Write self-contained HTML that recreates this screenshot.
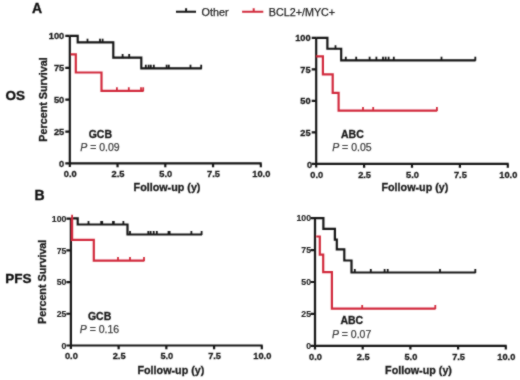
<!DOCTYPE html>
<html><head><meta charset="utf-8"><style>
html,body{margin:0;padding:0;background:#fff;width:520px;height:380px;overflow:hidden}
svg{display:block}
text{font-family:"Liberation Sans",sans-serif}
.tl{font-size:9.25px;font-weight:bold;fill:#1a1a1a;stroke:#1a1a1a;stroke-width:0.3px}
.tlb{font-size:8.75px;font-weight:bold;fill:#262626;stroke:#262626;stroke-width:0.15px}
.ax{font-size:10.75px;font-weight:bold;fill:#1a1a1a;stroke:#1a1a1a;stroke-width:0.3px}
.big{font-size:13.5px;font-weight:bold;fill:#111;stroke:#111;stroke-width:0.35px}
.leg{font-size:10.75px;fill:#262626;stroke:#262626;stroke-width:0.25px}
.grp{font-size:10.5px;font-weight:bold;fill:#1a1a1a;stroke:#1a1a1a;stroke-width:0.3px}
.pv{font-size:10.5px;fill:#404040;stroke:#404040;stroke-width:0.25px}
</style></head><body>
<svg width="520" height="380" viewBox="0 0 520 380">
<defs><filter id="bl" x="-5%" y="-5%" width="110%" height="110%"><feConvolveMatrix order="3" kernelMatrix="1 2 1 2 16 2 1 2 1" divisor="28" edgeMode="none" preserveAlpha="false"/></filter></defs>
<rect width="520" height="380" fill="#fff"/>
<g filter="url(#bl)">
<g transform="translate(0,0)">
<path d="M69.8,35.9 V167.0 M68.89999999999999,163.4 H261.7 M260.8,163.4 V167.20000000000002" stroke="#161616" stroke-width="2.2" fill="none"/>
<path d="M65.3,163.40 H69.8 M65.3,131.53 H69.8 M65.3,99.65 H69.8 M65.3,67.78 H69.8 M65.3,35.90 H69.8 M117.55,163.4 V167.20000000000002 M165.30,163.4 V167.20000000000002 M213.05,163.4 V167.20000000000002 " stroke="#161616" stroke-width="2.2" fill="none"/>
<text x="64.20" y="166.60" class="tl" text-anchor="end">0</text>
<text x="64.20" y="134.72" class="tl" text-anchor="end">25</text>
<text x="64.20" y="102.85" class="tl" text-anchor="end">50</text>
<text x="64.20" y="70.98" class="tl" text-anchor="end">75</text>
<text x="64.20" y="39.10" class="tl" text-anchor="end">100</text>
<text x="70.30" y="177.30" class="tl" text-anchor="middle">0.0</text>
<text x="118.05" y="177.30" class="tl" text-anchor="middle">2.5</text>
<text x="165.80" y="177.30" class="tl" text-anchor="middle">5.0</text>
<text x="213.55" y="177.30" class="tl" text-anchor="middle">7.5</text>
<text x="261.30" y="177.30" class="tl" text-anchor="middle">10.0</text>
<path d="M69.8,35.9 H77.7 V42.4 H113.3 V57.7 H141.3 V68.3 H201.8" stroke="#161616" stroke-width="2.2" fill="none" stroke-linejoin="miter"/>
<path d="M87.5,42.9 V38.8 M100,42.9 V38.8 M102.6,42.9 V38.8 M122.6,58.2 V54.1 M129.2,58.2 V54.1 M145.8,68.8 V64.7 M148.6,68.8 V64.7 M150.8,68.8 V64.7 M153.8,68.8 V64.7 M166.6,68.8 V64.7 M168.8,68.8 V64.7 M190.5,68.8 V64.7 M201.2,68.8 V64.7" stroke="#161616" stroke-width="1.8" fill="none"/>
<path d="M70.8,54.3 H75.8 V72.5 H101.5 V90.8 H143.5" stroke="#d22c3c" stroke-width="2.2" fill="none" stroke-linejoin="miter"/>
<path d="M116.9,91.3 V87.2 M128.8,91.3 V87.2 M141,91.3 V87.2 M143.2,91.3 V87.2" stroke="#d22c3c" stroke-width="1.8" fill="none"/>
</g>
<g transform="translate(0,0.35)">
<path d="M316.2,37.5 V167.2 M315.3,163.6 H508.7 M507.8,163.6 V167.4" stroke="#161616" stroke-width="2.2" fill="none"/>
<path d="M311.7,163.60 H316.2 M311.7,132.07 H316.2 M311.7,100.55 H316.2 M311.7,69.03 H316.2 M311.7,37.50 H316.2 M364.10,163.6 V167.4 M412.00,163.6 V167.4 M459.90,163.6 V167.4 " stroke="#161616" stroke-width="2.2" fill="none"/>
<text x="312.10" y="168.10" class="tl" text-anchor="end">0</text>
<text x="310.60" y="135.27" class="tl" text-anchor="end">25</text>
<text x="310.60" y="103.75" class="tl" text-anchor="end">50</text>
<text x="310.60" y="72.23" class="tl" text-anchor="end">75</text>
<text x="310.60" y="40.70" class="tl" text-anchor="end">100</text>
<text x="316.70" y="177.50" class="tl" text-anchor="middle">0.0</text>
<text x="364.60" y="177.50" class="tl" text-anchor="middle">2.5</text>
<text x="412.50" y="177.50" class="tl" text-anchor="middle">5.0</text>
<text x="460.40" y="177.50" class="tl" text-anchor="middle">7.5</text>
<text x="508.30" y="177.50" class="tl" text-anchor="middle">10.0</text>
<path d="M316.2,37.5 H327.4 V48.4 H341.2 V60.0 H475.6" stroke="#161616" stroke-width="2.2" fill="none" stroke-linejoin="miter"/>
<path d="M335.5,48.9 V44.8 M345.8,60.5 V56.4 M356.2,60.5 V56.4 M369.6,60.5 V56.4 M376.4,60.5 V56.4 M383,60.5 V56.4 M385.6,60.5 V56.4 M388.6,60.5 V56.4 M393.8,60.5 V56.4 M441.5,60.5 V56.4 M475.3,60.5 V56.4" stroke="#161616" stroke-width="1.8" fill="none"/>
<path d="M316.2,56.1 H322.9 V74 H332.7 V92.6 H338.6 V110.2 H437.2" stroke="#d22c3c" stroke-width="2.2" fill="none" stroke-linejoin="miter"/>
<path d="M363,110.7 V106.60000000000001 M373.2,110.7 V106.60000000000001 M436.9,110.7 V106.60000000000001" stroke="#d22c3c" stroke-width="1.8" fill="none"/>
</g>
<g transform="translate(0,0)">
<path d="M70.9,218.6 V349.1 M70.0,345.5 H262.7 M261.8,345.5 V349.3" stroke="#161616" stroke-width="2.2" fill="none"/>
<path d="M66.4,345.50 H70.9 M66.4,313.77 H70.9 M66.4,282.05 H70.9 M66.4,250.32 H70.9 M66.4,218.60 H70.9 M118.62,345.5 V349.3 M166.35,345.5 V349.3 M214.08,345.5 V349.3 " stroke="#161616" stroke-width="2.2" fill="none"/>
<text x="66.40" y="348.70" class="tlb" text-anchor="end">0</text>
<text x="66.40" y="316.97" class="tlb" text-anchor="end">25</text>
<text x="66.40" y="285.25" class="tlb" text-anchor="end">50</text>
<text x="66.40" y="253.52" class="tlb" text-anchor="end">75</text>
<text x="66.40" y="221.80" class="tlb" text-anchor="end">100</text>
<text x="71.40" y="359.40" class="tl" text-anchor="middle">0.0</text>
<text x="119.12" y="359.40" class="tl" text-anchor="middle">2.5</text>
<text x="166.85" y="359.40" class="tl" text-anchor="middle">5.0</text>
<text x="214.58" y="359.40" class="tl" text-anchor="middle">7.5</text>
<text x="262.30" y="359.40" class="tl" text-anchor="middle">10.0</text>
<path d="M70.9,218.4 H77.7 V224.5 H127.5 V234.5 H202" stroke="#161616" stroke-width="2.2" fill="none" stroke-linejoin="miter"/>
<path d="M88.5,225.0 V220.9 M101.2,225.0 V220.9 M102.2,225.0 V220.9 M113,225.0 V220.9 M113.8,225.0 V220.9 M123.4,225.0 V220.9 M130,235.0 V230.9 M148.3,235.0 V230.9 M150.6,235.0 V230.9 M153.7,235.0 V230.9 M156.8,235.0 V230.9 M168.5,235.0 V230.9 M169.6,235.0 V230.9 M191.4,235.0 V230.9 M201.6,235.0 V230.9" stroke="#161616" stroke-width="1.8" fill="none"/>
<path d="M72.1,218.4 V239.8 H93.8 V260.6 H144.4" stroke="#d22c3c" stroke-width="2.2" fill="none" stroke-linejoin="miter"/>
<path d="M72.1,218.9 V214.8 M118,261.1 V257.0 M130,261.1 V257.0 M144,261.1 V257.0" stroke="#d22c3c" stroke-width="1.8" fill="none"/>
</g>
<g transform="translate(0,0.4)">
<path d="M315.0,217.8 V349.0 M314.1,345.4 H506.7 M505.8,345.4 V349.2" stroke="#161616" stroke-width="2.2" fill="none"/>
<path d="M310.5,345.40 H315.0 M310.5,313.50 H315.0 M310.5,281.60 H315.0 M310.5,249.70 H315.0 M310.5,217.80 H315.0 M362.70,345.4 V349.2 M410.40,345.4 V349.2 M458.10,345.4 V349.2 " stroke="#161616" stroke-width="2.2" fill="none"/>
<text x="311.10" y="348.60" class="tlb" text-anchor="end">0</text>
<text x="311.10" y="316.70" class="tlb" text-anchor="end">25</text>
<text x="311.10" y="284.80" class="tlb" text-anchor="end">50</text>
<text x="311.10" y="252.90" class="tlb" text-anchor="end">75</text>
<text x="311.10" y="221.00" class="tlb" text-anchor="end">100</text>
<text x="315.50" y="359.30" class="tl" text-anchor="middle">0.0</text>
<text x="363.20" y="359.30" class="tl" text-anchor="middle">2.5</text>
<text x="410.90" y="359.30" class="tl" text-anchor="middle">5.0</text>
<text x="458.60" y="359.30" class="tl" text-anchor="middle">7.5</text>
<text x="506.30" y="359.30" class="tl" text-anchor="middle">10.0</text>
<path d="M315,217.7 H323.4 V228.4 H334.9 V239.3 H336.8 V249 H344.3 V260.1 H351.5 V272.1 H475.6" stroke="#161616" stroke-width="2.2" fill="none" stroke-linejoin="miter"/>
<path d="M354.8,272.6 V268.5 M370.8,272.6 V268.5 M384.6,272.6 V268.5 M387.7,272.6 V268.5 M440,272.6 V268.5 M475.3,272.6 V268.5" stroke="#161616" stroke-width="1.8" fill="none"/>
<path d="M316.3,236.1 H319.8 V254.3 H323.2 V271.8 H331.9 V308.2 H435.6" stroke="#d22c3c" stroke-width="2.2" fill="none" stroke-linejoin="miter"/>
<path d="M362.2,308.7 V304.59999999999997 M435.3,308.7 V304.59999999999997" stroke="#d22c3c" stroke-width="1.8" fill="none"/>
</g>

<text x="32.0" y="13.3" class="big" style="font-size:14px">A</text>
<text x="34.5" y="199.8" class="big" style="font-size:14px">B</text>
<text x="5.6" y="100.2" class="big">OS</text>
<text x="5.2" y="283.2" class="big">PFS</text>
<path d="M176,11.8 H196 M186.1,11.8 V8.2" stroke="#161616" stroke-width="2" fill="none"/>
<text x="201.6" y="15.7" class="leg">Other</text>
<path d="M242.1,11.8 H263.3 M253.7,11.8 V8.2" stroke="#d22c3c" stroke-width="2" fill="none"/>
<text x="268.8" y="15.7" class="leg">BCL2+/MYC+</text>
<text transform="translate(46.6,99.5) rotate(-90)" class="ax" text-anchor="middle">Percent Survival</text>
<text transform="translate(46.4,281.8) rotate(-90)" class="ax" text-anchor="middle">Percent Survival</text>
<text x="167" y="190.6" class="ax" text-anchor="middle">Follow-up (y)</text>
<text x="414.9" y="190.6" class="ax" text-anchor="middle">Follow-up (y)</text>
<text x="170.9" y="373.9" class="ax" text-anchor="middle">Follow-up (y)</text>
<text x="418.5" y="373.9" class="ax" text-anchor="middle">Follow-up (y)</text>
<text x="100.3" y="138" class="grp" text-anchor="middle">GCB</text>
<text x="100" y="151" class="pv" text-anchor="middle"><tspan font-style="italic">P</tspan> = 0.09</text>
<text x="352.4" y="138.4" class="grp" text-anchor="middle">ABC</text>
<text x="351.9" y="151.4" class="pv" text-anchor="middle"><tspan font-style="italic">P</tspan> = 0.05</text>
<text x="99.6" y="320.2" class="grp" text-anchor="middle">GCB</text>
<text x="99.5" y="333.4" class="pv" text-anchor="middle"><tspan font-style="italic">P</tspan> = 0.16</text>
<text x="351.8" y="324" class="grp" text-anchor="middle">ABC</text>
<text x="351.6" y="337.6" class="pv" text-anchor="middle"><tspan font-style="italic">P</tspan> = 0.07</text>

</g>
</svg>
</body></html>
